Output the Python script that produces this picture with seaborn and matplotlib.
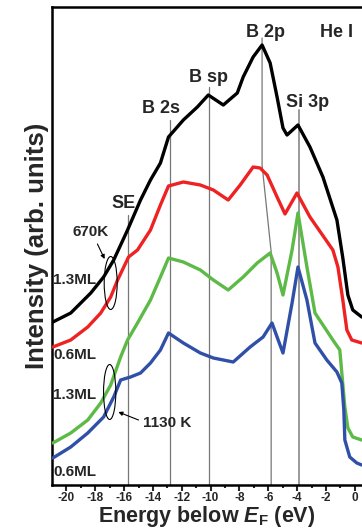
import numpy as np
import pandas as pd
import matplotlib
matplotlib.use("Agg")
import matplotlib.pyplot as plt
from matplotlib.patches import Ellipse
import seaborn as sns

# ---------------- data ----------------
black_E = [-20.94, -19.7, -18.31, -17.42, -16.72, -15.76, -14.86, -14.17, -13.48, -12.92,
           -11.89, -10.92, -10.16, -9.12, -8.15, -7.74, -7.05, -6.43, -5.87, -5.39,
           -4.98, -4.70, -3.94, -3.11, -2.21, -1.24, -0.83, -0.48, -0.14, 0.48]
black_I = [163, 172, 192, 208, 225, 255, 285, 305, 322, 348,
           365, 378, 390, 380, 392, 408, 428, 440, 422, 388,
           357, 350, 360, 338, 308, 265, 227, 190, 175, 168]

red_E = [-20.94, -19.7, -18.52, -17.62, -16.93, -16.45, -15.69, -15.07, -14.17, -13.48,
         -12.92, -11.89, -10.71, -9.81, -8.78, -7.95, -7.05, -6.57, -6.08, -5.39,
         -4.84, -4.01, -3.11, -1.52, -1.17, -0.83, -0.55, -0.21, 0.48]
red_I = [138, 145, 158, 172, 188, 205, 228, 235, 255, 280,
         299, 303, 300, 295, 285, 300, 318, 317, 310, 288,
         271, 292, 268, 235, 218, 185, 155, 145, 142]

green_E = [-20.94, -19.7, -18.52, -17.62, -16.93, -16.24, -15.76, -15.07, -14.17, -13.48,
           -12.92, -11.89, -10.71, -9.81, -8.78, -7.74, -6.77, -5.87, -5.39, -4.98,
           -4.35, -3.94, -3.32, -2.76, -1.52, -1.04, -0.9, -0.69, -0.48, -0.14, 0.48]
green_I = [42, 52, 65, 82, 100, 128, 145, 162, 185, 208,
           227, 223, 215, 205, 195, 208, 222, 232, 212, 190,
           235, 272, 218, 172, 145, 135, 112, 78, 57, 48, 45]

blue_E = [-20.94, -19.7, -18.52, -17.42, -16.72, -16.24, -15.55, -14.86, -14.17, -13.48,
          -12.92, -11.89, -10.71, -9.81, -8.43, -7.26, -6.36, -5.74, -5.39, -4.98,
          -4.35, -3.94, -3.32, -2.76, -1.94, -1.24, -0.9, -0.76, -0.69, -0.35, 0.14, 0.48]
blue_I = [27, 38, 52, 68, 88, 105, 108, 112, 122, 135,
          152, 142, 132, 127, 123, 138, 148, 162, 148, 132,
          182, 218, 185, 142, 125, 113, 102, 75, 45, 28, 22, 20]

series_names = ["670K 1.3ML", "670K 0.6ML", "1130K 1.3ML", "1130K 0.6ML"]
series_colors = ["#000000", "#ee2222", "#5dba46", "#3050a8"]

line_labels = ["SE", "B 2s", "B sp", "B 2p", "Si 3p"]
line_energies = [-15.7, -12.8, -10.1, -6.43, -3.9]
line_tops = [270, 365, 398, 447, 375]
b2p_lower_energy = -5.8

x_ticks = list(range(-20, 1, 2))

# ---------------- build table ----------------
frames = []
for name, E, I in zip(series_names,
                      [black_E, red_E, green_E, blue_E],
                      [black_I, red_I, green_I, blue_I]):
    frames.append(pd.DataFrame({"E": E, "I": I, "series": name}))
df = pd.concat(frames, ignore_index=True)

# ---------------- style ----------------
sns.set_style("white")
plt.rcParams["font.family"] = ["Liberation Sans", "DejaVu Sans"]
plt.rcParams["font.weight"] = "bold"
plt.rcParams["mathtext.fontset"] = "custom"
plt.rcParams["mathtext.rm"] = "Liberation Sans:bold"
plt.rcParams["mathtext.bf"] = "Liberation Sans:bold"
plt.rcParams["mathtext.it"] = "Liberation Sans:bold:italic"

fig = plt.figure(figsize=(3.62, 5.32), dpi=100)
ax = fig.add_axes([52 / 362, 47 / 532, 1 - 52 / 362, 478 / 532])

# reference lines
gray = "#777777"
for lab, e, top in zip(line_labels, line_energies, line_tops):
    if lab == "B 2p":
        ax.plot([b2p_lower_energy, b2p_lower_energy, e, e], [0, 233, 320, top],
                color=gray, lw=0.9, zorder=1)
    elif lab == "Si 3p":
        ax.plot([e, e], [0, top], color="#999999", lw=1.4, zorder=1)
    else:
        ax.plot([e, e], [0, top], color=gray, lw=0.9, zorder=1)

sns.lineplot(data=df, x="E", y="I", hue="series", hue_order=series_names,
             palette=series_colors, sort=False, estimator=None, lw=2.4,
             legend=False, ax=ax, zorder=3)

ax.set_xlim(-21, 0.5)
ax.set_ylim(0, 478)
ax.set_xticks(x_ticks)
ax.set_xticklabels([str(t) for t in x_ticks])
ax.set_xticks([t + 1 for t in x_ticks[:-1]], minor=True)
ax.set_yticks([])
ax.tick_params(axis="x", which="major", direction="out", length=4, width=1.5,
               labelsize=8.5, pad=1, bottom=True)
ax.tick_params(axis="x", which="minor", direction="out", length=2.5, width=1.5,
               bottom=True)
for lbl in ax.get_xticklabels():
    lbl.set_fontweight("bold")
for side in ["left", "bottom", "top"]:
    ax.spines[side].set_linewidth(1.8)
    ax.spines[side].set_color("black")
ax.spines["right"].set_visible(False)

ax.set_xlabel(r"Energy below $E_{\mathrm{F}}$ (eV)", fontsize=15.5, fontweight="bold", labelpad=0)
ax.set_ylabel("Intensity (arb. units)", fontsize=18.5, fontweight="bold", labelpad=2)

# peak labels
fs = 13
ax.text(-0.14, 453, "He I", ha="right", va="center", fontsize=fs, fontweight="bold")
ax.text(-6.22, 453, "B 2p", ha="center", va="center", fontsize=fs, fontweight="bold")
ax.text(-10.16, 408, "B sp", ha="center", va="center", fontsize=fs, fontweight="bold")
ax.text(-13.41, 377, "B 2s", ha="center", va="center", fontsize=fs, fontweight="bold")
ax.text(-3.25, 383, "Si 3p", ha="center", va="center", fontsize=fs, fontweight="bold")
ax.text(-16.03, 282, "SE", ha="center", va="center", fontsize=fs, fontweight="bold")

sfs = 11
ax.text(-20.9, 205, "1.3ML", ha="left", va="center", fontsize=sfs, fontweight="bold")
ax.text(-20.9, 130, "0.6ML", ha="left", va="center", fontsize=sfs, fontweight="bold")
ax.text(-20.9, 90, "1.3ML", ha="left", va="center", fontsize=sfs, fontweight="bold")
ax.text(-20.9, 13, "0.6ML", ha="left", va="center", fontsize=sfs, fontweight="bold")
ax.text(-18.3, 253, "670K", ha="center", va="center", fontsize=sfs, fontweight="bold")
ax.text(-13.0, 62, "1130 K", ha="center", va="center", fontsize=sfs, fontweight="bold")

arrow_kw = dict(arrowstyle="-|>", color="black", lw=0.8, mutation_scale=6,
                shrinkA=0, shrinkB=0)
ax.annotate("", xy=(-17.35, 226), xytext=(-17.85, 241), arrowprops=arrow_kw)
ax.annotate("", xy=(-16.4, 73), xytext=(-15.0, 65), arrowprops=arrow_kw)

ax.add_patch(Ellipse((-16.93, 202), 0.9, 53, fill=False, ec="black", lw=0.8, zorder=4))
ax.add_patch(Ellipse((-17.0, 93), 0.85, 55, fill=False, ec="black", lw=0.8, zorder=4))

fig.savefig("out.png", dpi=100)
